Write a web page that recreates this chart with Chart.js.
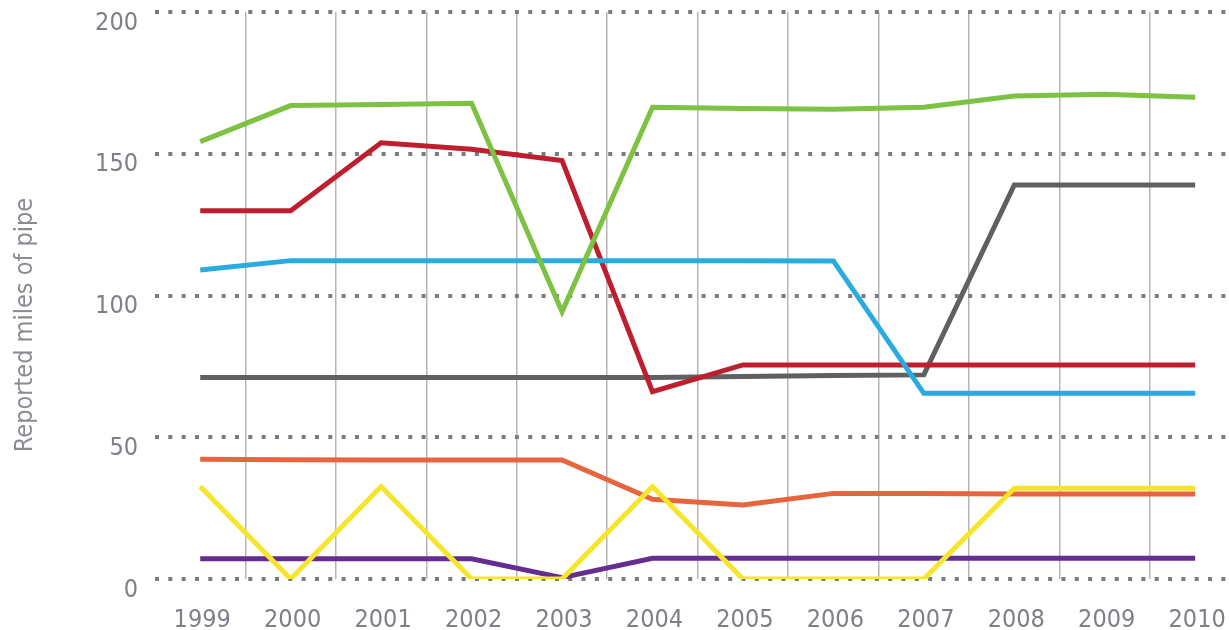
<!DOCTYPE html>
<html>
<head>
<meta charset="utf-8">
<script src="https://cdn.jsdelivr.net/npm/chart.js@4/dist/chart.umd.min.js"></script>
<style>
  html, body { margin: 0; padding: 0; background: #ffffff; overflow: hidden; }
  #wrap { width: 1229px; height: 630px; position: relative; }
</style>
</head>
<body>
<div id="wrap"><canvas id="chart" width="1229" height="630"></canvas></div>
<script>
// Reported miles of pipe, 1999-2010
const years = [1999, 2000, 2001, 2002, 2003, 2004, 2005, 2006, 2007, 2008, 2009, 2010];
const yTicks = [0, 50, 100, 150, 200];
const yTitle = 'Reported miles of pipe';

const greenSeries  = [154.3, 167, 167.4, 167.8, 94.3, 166.4, 166, 165.7, 166.4, 170.4, 171, 169.9];
const redSeries    = [129.9, 129.9, 153.9, 151.6, 147.6, 66.1, 75.5, 75.5, 75.5, 75.5, 75.5, 75.5];
const blueSeries   = [109, 112.3, 112.3, 112.3, 112.3, 112.3, 112.3, 112.2, 65.5, 65.5, 65.5, 65.5];
const graySeries   = [71.1, 71.1, 71.1, 71.1, 71.1, 71.1, 71.4, 71.8, 72, 139, 139, 139];
const orangeSeries = [42.2, 42.1, 42, 42, 42, 28.1, 26.1, 30.2, 30.2, 30, 30, 30];
const yellowSeries = [32.6, 0, 32.6, 0, 0, 32.6, 0, 0, 0, 32, 32, 32];
const purpleSeries = [7.1, 7.1, 7.1, 7.1, 0.5, 7.3, 7.3, 7.3, 7.3, 7.3, 7.3, 7.3];

const FONT = '"Liberation Sans Narrow", "DejaVu Sans Condensed", "Roboto", sans-serif';
const TEXT = '#7d8089';

function points(values) {
  return values.map((v, i) => ({ x: years[i], y: v }));
}
function line(values, color, order) {
  return {
    data: points(values),
    borderColor: color,
    backgroundColor: color,
    borderWidth: 5,
    pointRadius: 0,
    tension: 0,
    fill: false,
    order: order
  };
}

// rotated axis title, placed beside the tick labels
const yTitlePlugin = {
  id: 'yTitle',
  afterDraw(chart) {
    const ctx = chart.ctx;
    ctx.save();
    ctx.translate(25, 325);
    ctx.rotate(-Math.PI / 2);
    ctx.font = '25px ' + FONT;
    ctx.fillStyle = '#8a8c92';
    ctx.textAlign = 'center';
    ctx.textBaseline = 'middle';
    ctx.fillText(yTitle, 0, 0);
    ctx.restore();
  }
};

function noEdgePadding(scale) {
  scale.paddingTop = 0;
  scale.paddingBottom = 0;
  scale.paddingLeft = 0;
  scale.paddingRight = 0;
}

new Chart(document.getElementById('chart'), {
  type: 'line',
  data: {
    datasets: [
      line(yellowSeries, '#f6e52b', 0),
      line(greenSeries,  '#7dc242', 1),
      line(blueSeries,   '#29aae1', 2),
      line(redSeries,    '#be1e2d', 3),
      line(orangeSeries, '#e8643c', 4),
      line(purpleSeries, '#662d91', 5),
      line(graySeries,   '#5f6062', 6)
    ]
  },
  plugins: [yTitlePlugin],
  options: {
    responsive: false,
    animation: false,
    layout: { padding: { top: 12, right: 0, bottom: 0, left: 0 } },
    plugins: { legend: { display: false }, tooltip: { enabled: false } },
    scales: {
      x: {
        type: 'linear',
        min: 1998.5,
        max: 2010.374,
        afterBuildTicks(scale) {
          const t = years.map(y => ({ value: y }))
            .concat(years.slice(0, -1).map(y => ({ value: y + 0.5 })));
          t.sort((a, b) => a.value - b.value);
          scale.ticks = t;
        },
        afterFit(scale) { scale.height = 51; noEdgePadding(scale); },
        ticks: {
          autoSkip: false,
          maxRotation: 0,
          padding: 26,
          labelOffset: 2,
          color: TEXT,
          font: { family: FONT, size: 25 },
          callback: (v) => Number.isInteger(v) ? String(v) : ''
        },
        grid: {
          drawTicks: false,
          lineWidth: 1.5,
          color: (c) => (c.tick && !Number.isInteger(c.tick.value)) ? '#b6b6b9' : 'rgba(0,0,0,0)'
        },
        border: { display: false }
      },
      y: {
        min: 0,
        max: 200,
        afterBuildTicks(scale) {
          scale.ticks = yTicks.map(v => ({ value: v }));
        },
        afterFit(scale) { scale.width = 155; noEdgePadding(scale); },
        ticks: {
          padding: 17,
          labelOffset: 11,
          color: TEXT,
          font: { family: FONT, size: 25 }
        },
        grid: {
          drawTicks: false,
          lineWidth: 4,
          color: '#7c7c80'
        },
        border: { display: false, dash: [4, 9.33], dashOffset: 0 }
      }
    }
  }
});
</script>
</body>
</html>
